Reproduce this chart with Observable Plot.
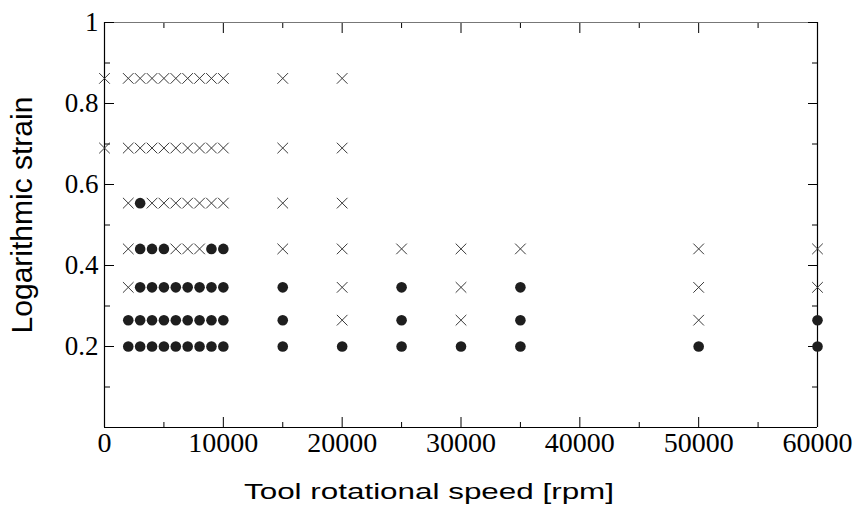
<!DOCTYPE html>
<html>
<head>
<meta charset="utf-8">
<script src="https://cdn.jsdelivr.net/npm/d3@7"></script>
<script src="https://cdn.jsdelivr.net/npm/@observablehq/plot@0.6"></script>
<style>
  html, body { margin: 0; padding: 0; background: #fff; }
  #chart svg { display: block; }
</style>
</head>
<body>
<div id="chart"></div>
<script>
// Tool rotational speed columns [rpm]
const speeds = [0, 2000, 3000, 4000, 5000, 6000, 7000, 8000, 9000, 10000,
                15000, 20000, 25000, 30000, 35000, 50000, 60000];
// Logarithmic strain rows (bottom to top)
const strains = [0.2, 0.265, 0.346, 0.441, 0.554, 0.69, 0.862];
// Outcome per speed column, one character per strain row:
// "o" = filled circle, "x" = cross, "-" = not tested
const outcomes = [
  "-----xx", // 0
  "ooxxxxx", // 2000
  "oooooxx", // 3000
  "ooooxxx", // 4000
  "ooooxxx", // 5000
  "oooxxxx", // 6000
  "oooxxxx", // 7000
  "oooxxxx", // 8000
  "ooooxxx", // 9000
  "ooooxxx", // 10000
  "oooxxxx", // 15000
  "oxxxxxx", // 20000
  "ooox---", // 25000
  "oxxx---", // 30000
  "ooox---", // 35000
  "oxxx---", // 50000
  "ooxx---"  // 60000
];
const xMajor = [0, 10000, 20000, 30000, 40000, 50000, 60000];
const xMinor = [5000, 15000, 25000, 35000, 45000, 55000];
const yMajor = [0.2, 0.4, 0.6, 0.8, 1];
const yMinor = [0.1, 0.3, 0.5, 0.7, 0.9];
const xLabel = "Tool rotational speed [rpm]";
const yLabel = "Logarithmic strain";

const points = [];
speeds.forEach((s, i) => {
  strains.forEach((e, j) => {
    const c = outcomes[i][j];
    if (c !== "-") points.push({speed: s, strain: e, kind: c});
  });
});
const circles = points.filter(d => d.kind === "o");
const crosses = points.filter(d => d.kind === "x");

const serif = "'Liberation Serif', 'Times New Roman', serif";
const sans = "'Liberation Sans', Arial, sans-serif";

const tickOpts = {text: null, label: null, stroke: "#000"};

const chart = Plot.plot({
  width: 855,
  height: 513,
  marginLeft: 104,
  marginRight: 38,
  marginTop: 22,
  marginBottom: 86,
  style: {background: "#fff", color: "#000", fontFamily: serif},
  x: {domain: [0, 60000], axis: null},
  y: {domain: [0, 1], axis: null},
  marks: [
    // frame
    Plot.ruleY([1], {stroke: "#777", strokeWidth: 1.2}),
    Plot.ruleY([0], {stroke: "#000", strokeWidth: 1.2}),
    Plot.ruleX([0], {stroke: "#000", strokeWidth: 1.2}),
    Plot.ruleX([60000], {stroke: "#000", strokeWidth: 1.2}),
    // inward ticks
    Plot.axisX(xMajor, {anchor: "bottom", tickSize: -10, ...tickOpts}),
    Plot.axisX(xMinor, {anchor: "bottom", tickSize: -5, ...tickOpts}),
    Plot.axisX(xMajor, {anchor: "top", tickSize: -10, ...tickOpts}),
    Plot.axisX(xMinor, {anchor: "top", tickSize: -5, ...tickOpts}),
    Plot.axisY(yMajor, {anchor: "left", tickSize: -10, ...tickOpts}),
    Plot.axisY(yMinor, {anchor: "left", tickSize: -6, ...tickOpts}),
    Plot.axisY(yMajor, {anchor: "right", tickSize: -10, ...tickOpts}),
    Plot.axisY(yMinor, {anchor: "right", tickSize: -6, ...tickOpts}),
    // tick labels
    Plot.axisX(xMajor, {anchor: "bottom", tickSize: 0, tickPadding: 5, fontSize: 28,
      fontFamily: serif, tickFormat: d => String(d), label: null}),
    Plot.axisY(yMajor, {anchor: "left", tickSize: 0, tickPadding: 6, fontSize: 27,
      fontFamily: serif, tickFormat: d => String(d), label: null}),
    // axis titles
    Plot.text([xLabel], {frameAnchor: "bottom", text: d => d, dx: -32, dy: 71,
      textAnchor: "middle", fontSize: 22, fontFamily: sans, fill: "#000"}),
    Plot.text([yLabel], {frameAnchor: "left", text: d => d, rotate: -90, dx: -82, dy: -10,
      textAnchor: "middle", fontSize: 30, fontFamily: sans, fill: "#000"}),
    // data
    Plot.dot(crosses, {x: "speed", y: "strain", symbol: "times", r: 4.9,
      stroke: "#3a3a3a", strokeWidth: 1, fill: "none"}),
    Plot.dot(circles, {x: "speed", y: "strain", symbol: "circle", r: 5.3,
      fill: "#1e1e1e", stroke: "none"})
  ]
});
document.getElementById("chart").appendChild(chart);
d3.select(chart).selectAll("text")
  .filter(function() { return this.textContent === xLabel; })
  .attr("textLength", 370)
  .attr("lengthAdjust", "spacingAndGlyphs");
</script>
</body>
</html>
